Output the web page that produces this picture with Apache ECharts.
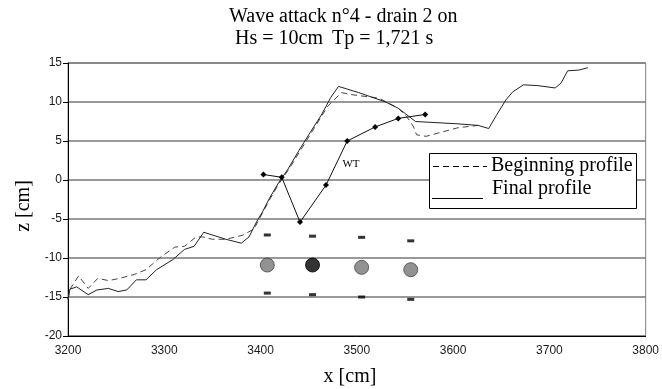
<!DOCTYPE html>
<html>
<head>
<meta charset="utf-8">
<script src="https://cdn.jsdelivr.net/npm/echarts@6/dist/echarts.min.js"></script>
<style>
html,body{margin:0;padding:0;background:#fff;}
#chart{width:662px;height:389px;}
</style>
</head>
<body>
<div id="chart"></div>
<script>
// ---- data ----
var titleLine1 = "Wave attack n°4 - drain 2 on";
var titleLine2a = "Hs = 10cm";
var titleLine2b = "Tp = 1,721 s";
var legendNames = ["Beginning profile", "Final profile"];

var xTicks = [3200, 3300, 3400, 3500, 3600, 3700, 3800];
var yTicks = [-20, -15, -10, -5, 0, 5, 10, 15];

var beginX = [3200, 3202, 3211, 3221, 3231, 3242, 3254, 3269, 3281, 3295, 3311, 3321, 3333, 3340, 3350, 3364, 3381, 3393, 3397, 3409, 3419, 3430, 3450, 3470, 3484, 3497, 3523, 3543, 3552, 3559, 3562, 3572, 3605, 3626];
var beginZ = [-15.3, -14.0, -12.3, -13.9, -12.6, -12.9, -12.6, -12.1, -11.5, -10.0, -8.6, -8.5, -7.3, -7.3, -7.6, -7.6, -7.1, -6.3, -5.4, -2.6, -0.5, 1.5, 5.5, 9.5, 11.2, 10.9, 10.5, 9.2, 8.1, 6.8, 5.8, 5.6, 6.7, 7.0];

var finalX = [3200, 3202, 3209, 3221, 3230, 3242, 3252, 3261, 3271, 3281, 3292, 3309, 3321, 3331, 3341, 3364, 3380, 3388, 3397, 3402, 3409, 3419, 3428, 3440, 3450, 3463, 3473, 3481, 3502, 3530, 3543, 3561, 3605, 3626, 3637, 3645, 3655, 3662, 3673, 3688, 3706, 3712, 3719, 3731, 3740];
var finalZ = [-15.3, -14.0, -13.7, -14.7, -14.1, -13.9, -14.3, -14.1, -12.8, -12.8, -11.5, -10.2, -8.9, -8.5, -6.7, -7.6, -8.1, -7.3, -5.1, -4.1, -2.4, -0.3, 1.3, 3.8, 5.8, 8.3, 10.6, 12.0, 11.2, 10.0, 9.2, 7.5, 7.2, 7.0, 6.6, 8.3, 10.3, 11.3, 12.2, 12.1, 11.8, 12.4, 14.0, 14.1, 14.4];

var wtX = [3403, 3422, 3441, 3468, 3490, 3519, 3543, 3571];
var wtZ = [0.7, 0.35, -5.4, -0.65, 5.0, 6.8, 7.9, 8.4];
var wtLabel = "WT";

var drainX = [3407, 3454, 3505, 3556];
var drainZ = [-10.9, -10.9, -11.2, -11.5];
var drainActive = [false, true, false, false];

var sensorTopX = [3407, 3454, 3505, 3556];
var sensorTopZ = [-7.05, -7.2, -7.35, -7.8];
var sensorBotX = [3407, 3454, 3505, 3556];
var sensorBotZ = [-14.5, -14.7, -15.0, -15.3];

function pairs(xs, ys) { return xs.map(function (x, i) { return [x, ys[i]]; }); }

var chart = echarts.init(document.getElementById('chart'), null, {renderer: 'canvas'});
var serif = '"Liberation Serif", "Times New Roman", serif';
var sans = '"Liberation Sans", Arial, sans-serif';

var option = {
  animation: false,
  backgroundColor: '#fff',
  grid: {left: 68, right: 14, top: 63, bottom: 53, show: true, borderColor: '#808080', borderWidth: 1, backgroundColor: 'transparent'},
  xAxis: {
    type: 'value', min: xTicks[0], max: xTicks[xTicks.length - 1], interval: 100,
    axisLine: {show: true, onZero: false, lineStyle: {color: '#000', width: 1}},
    axisTick: {show: false},
    splitLine: {show: false},
    axisLabel: {color: '#1a1a1a', fontFamily: sans, fontSize: 12, margin: 9, formatter: function (v) { return String(v); }}
  },
  yAxis: {
    type: 'value', min: yTicks[0], max: yTicks[yTicks.length - 1], interval: 5,
    axisLine: {show: true, onZero: false, lineStyle: {color: '#000', width: 1}},
    axisTick: {show: true, inside: false, length: 5, lineStyle: {color: '#000'}},
    splitLine: {show: true, lineStyle: {color: '#777', width: 1.5}},
    axisLabel: {color: '#1a1a1a', fontFamily: sans, fontSize: 12, margin: 6, formatter: function (v) { return String(v); }}
  },
  series: [
    {
      name: legendNames[0], type: 'line', data: pairs(beginX, beginZ), symbol: 'none',
      lineStyle: {color: '#444', width: 1, type: [6, 4]}, z: 3
    },
    {
      name: legendNames[1], type: 'line', data: pairs(finalX, finalZ), symbol: 'none',
      lineStyle: {color: '#222', width: 1}, z: 4
    },
    {
      name: 'WT', type: 'line', data: pairs(wtX, wtZ), symbol: 'diamond', symbolSize: 6,
      itemStyle: {color: '#000'}, lineStyle: {color: '#111', width: 1}, z: 5
    },
    {
      name: 'drains', type: 'scatter', symbol: 'circle', symbolSize: 14,
      data: drainX.map(function (x, i) {
        return {value: [x, drainZ[i]], itemStyle: drainActive[i] ? {color: '#000', borderColor: '#000', borderWidth: 1} : {color: '#777', borderColor: '#444', borderWidth: 1}};
      }), z: 5
    },
    {
      name: 'sensorsTop', type: 'scatter', symbol: 'rect', symbolSize: [7, 3],
      itemStyle: {color: '#000'}, data: pairs(sensorTopX, sensorTopZ), z: 5
    },
    {
      name: 'sensorsBottom', type: 'scatter', symbol: 'rect', symbolSize: [7, 3],
      itemStyle: {color: '#000'}, data: pairs(sensorBotX, sensorBotZ), z: 5
    }
  ],
  graphic: [
    {type: 'text', left: 229, top: 7, style: {text: titleLine1, font: '20px ' + serif, fill: '#000'}},
    {type: 'text', left: 235, top: 29, style: {text: titleLine2a, font: '20px ' + serif, fill: '#000'}},
    {type: 'text', left: 332, top: 29, style: {text: titleLine2b, font: '20px ' + serif, fill: '#000'}},
    {type: 'text', x: 350, y: 377, style: {text: 'x [cm]', font: '20px ' + serif, fill: '#000', align: 'center', verticalAlign: 'middle'}},
    {type: 'text', x: 24, y: 206, rotation: Math.PI / 2, style: {text: 'z [cm]', font: '20px ' + serif, fill: '#000', align: 'center', verticalAlign: 'middle'}},
    {type: 'text', x: 351, y: 164, style: {text: wtLabel, font: '11px ' + serif, fill: '#000', align: 'center', verticalAlign: 'middle'}, z: 10},
    {type: 'rect', shape: {x: 429.5, y: 153.5, width: 207, height: 55}, style: {fill: '#fff', stroke: '#000', lineWidth: 1}, z: 20},
    {type: 'line', shape: {x1: 433, y1: 166.5, x2: 487, y2: 166.5}, style: {stroke: '#000', lineWidth: 1, lineDash: [6, 4]}, z: 21},
    {type: 'line', shape: {x1: 432, y1: 198.5, x2: 483, y2: 198.5}, style: {stroke: '#000', lineWidth: 1}, z: 21},
    {type: 'text', x: 491, y: 166, style: {text: legendNames[0], font: '20px ' + serif, fill: '#000', align: 'left', verticalAlign: 'middle'}, z: 21},
    {type: 'text', x: 492, y: 189, style: {text: legendNames[1], font: '20px ' + serif, fill: '#000', align: 'left', verticalAlign: 'middle'}, z: 21}
  ]
};
chart.setOption(option);
</script>
</body>
</html>
